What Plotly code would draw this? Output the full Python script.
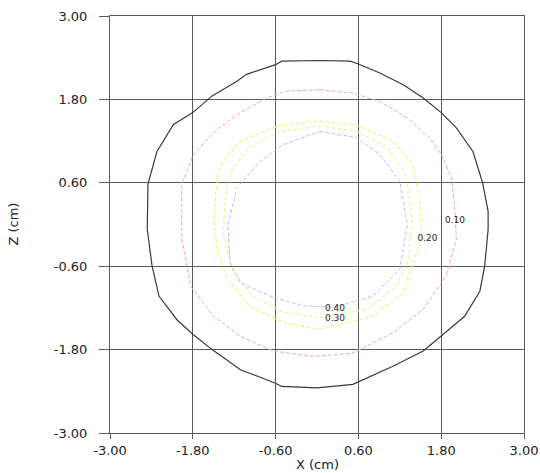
import plotly.graph_objects as go

# Axis ticks
tick_vals = [-3.0, -1.8, -0.6, 0.6, 1.8, 3.0]
tick_text = ["-3.00", "-1.80", "-0.60", "0.60", "1.80", "3.00"]

# Outer (black) boundary contour (cm)
outer_x = [0.04, 0.48, 0.60, 0.91, 1.25, 1.54, 1.80, 2.02, 2.26, 2.40, 2.48, 2.48, 2.43, 2.36, 2.14, 1.80,
           1.54, 1.10, 0.52, 0.00, -0.51, -0.61, -1.11, -1.52, -1.80, -2.03, -2.29, -2.39, -2.46, -2.45,
           -2.32, -2.08, -1.80, -1.52, -1.16, -1.02, -0.60, -0.51, 0.04]
outer_z = [2.36, 2.35, 2.31, 2.18, 2.01, 1.82, 1.61, 1.39, 1.05, 0.60, 0.19, -0.07, -0.60, -0.96, -1.32, -1.61,
           -1.82, -2.04, -2.30, -2.35, -2.33, -2.28, -2.09, -1.80, -1.58, -1.37, -1.03, -0.60, -0.07, 0.58,
           1.05, 1.44, 1.61, 1.85, 2.06, 2.16, 2.30, 2.35, 2.36]

# 0.10 contour (red)
c10_x = [0.04, 0.52, 0.91, 1.30, 1.63, 1.80, 1.95, 2.00, 2.02, 1.87, 1.54, 1.10, 0.52, -0.05, -0.63, -1.11,
         -1.50, -1.83, -1.96, -1.96, -1.79, -1.45, -1.11, -0.73, -0.44, 0.04]
c10_z = [1.94, 1.89, 1.77, 1.54, 1.25, 1.01, 0.67, 0.20, -0.22, -0.74, -1.22, -1.56, -1.85, -1.90, -1.82, -1.61,
         -1.32, -0.89, -0.20, 0.58, 1.01, 1.37, 1.61, 1.82, 1.92, 1.94]

# 0.20 contour (yellow)
c20_x = [0.04, 0.60, 1.10, 1.39, 1.48, 1.52, 1.39, 1.25, 0.81, 0.04, -0.49, -0.97, -1.30, -1.45, -1.49,
         -1.47, -1.40, -1.11, -0.55, 0.04]
c20_z = [1.49, 1.42, 1.20, 0.86, 0.40, -0.20, -0.55, -0.98, -1.32, -1.51, -1.41, -1.18, -0.79, -0.36, 0.05,
         0.43, 0.86, 1.20, 1.42, 1.49]

# 0.30 contour (yellow)
c30_x = [0.04, 0.58, 1.02, 1.28, 1.38, 1.32, 1.14, 0.72, 0.04, -0.50, -0.92, -1.22, -1.36, -1.33, -1.24,
         -0.98, -0.52, 0.04]
c30_z = [1.42, 1.34, 1.10, 0.74, 0.10, -0.50, -0.90, -1.22, -1.34, -1.26, -1.04, -0.66, -0.10, 0.38, 0.78,
         1.12, 1.34, 1.42]

# 0.40 contour (blue)
c40_x = [0.04, 0.57, 0.91, 1.20, 1.31, 1.20, 0.81, 0.26, -0.20, -0.63, -1.11, -1.26, -1.29, -1.16, -0.82,
         -0.49, 0.04]
c40_z = [1.34, 1.25, 1.01, 0.62, 0.00, -0.65, -1.03, -1.19, -1.17, -1.05, -0.84, -0.55, 0.00, 0.53, 0.91,
         1.15, 1.34]

# Contour labels
label_text = ["0.10", "0.20", "0.40", "0.30"]
label_x = [2.00, 1.60, 0.26, 0.26]
label_z = [0.05, -0.21, -1.21, -1.36]

FONT = "DejaVu Sans"
TXT = "#222222"

fig = go.Figure()
series = [
    (outer_x, outer_z, "#3a3a3a", 1.2, "solid"),
    (c10_x, c10_z, "#f2aaaa", 1, "4px,2px"),
    (c20_x, c20_z, "#f4f48c", 1.3, "4px,2px"),
    (c30_x, c30_z, "#f0f2b0", 1.3, "4px,2px"),
    (c40_x, c40_z, "#b4c4f2", 1, "4px,2px"),
]
for xs, zs, col, w, d in series:
    fig.add_trace(go.Scatter(x=xs, y=zs, mode="lines", line=dict(color=col, width=w, dash=d),
                             hoverinfo="skip", showlegend=False))

fig.add_trace(go.Scatter(x=label_x, y=label_z, mode="text", text=label_text,
                         textfont=dict(family=FONT, size=9, color=TXT),
                         hoverinfo="skip", showlegend=False))

axis_common = dict(
    range=[-3, 3], tickvals=tick_vals, ticktext=tick_text, automargin=False,
    showgrid=True, gridcolor="#5a5a5a", gridwidth=1,
    zeroline=False, showline=True, linecolor="#5a5a5a", linewidth=1, mirror=True,
    ticks="outside", tickcolor="#5a5a5a",
    tickfont=dict(family=FONT, size=13, color=TXT),
)

fig.update_layout(
    width=540, height=473,
    margin=dict(l=110, r=16, t=16, b=40),
    paper_bgcolor="white", plot_bgcolor="white",
    xaxis=dict(**axis_common, ticklen=5),
    yaxis=dict(**axis_common, ticklen=10, ticklabelstandoff=9),
    showlegend=False,
    annotations=[
        dict(text="X (cm)", xref="paper", yref="paper", x=0.5, y=-0.075, xanchor="center",
             yanchor="middle", showarrow=False, font=dict(family=FONT, size=13, color=TXT)),
        dict(text="Z (cm)", xref="paper", yref="paper", x=-0.234, y=0.5, xanchor="center",
             yanchor="middle", textangle=-90, showarrow=False, font=dict(family=FONT, size=13, color=TXT)),
    ],
)

# remove the default 8px page margin so the figure fills the 540x473 window exactly
fig.write_html("out.html", config={"displayModeBar": False},
               post_script="document.body.style.margin='0px';document.body.style.overflow='hidden';")
